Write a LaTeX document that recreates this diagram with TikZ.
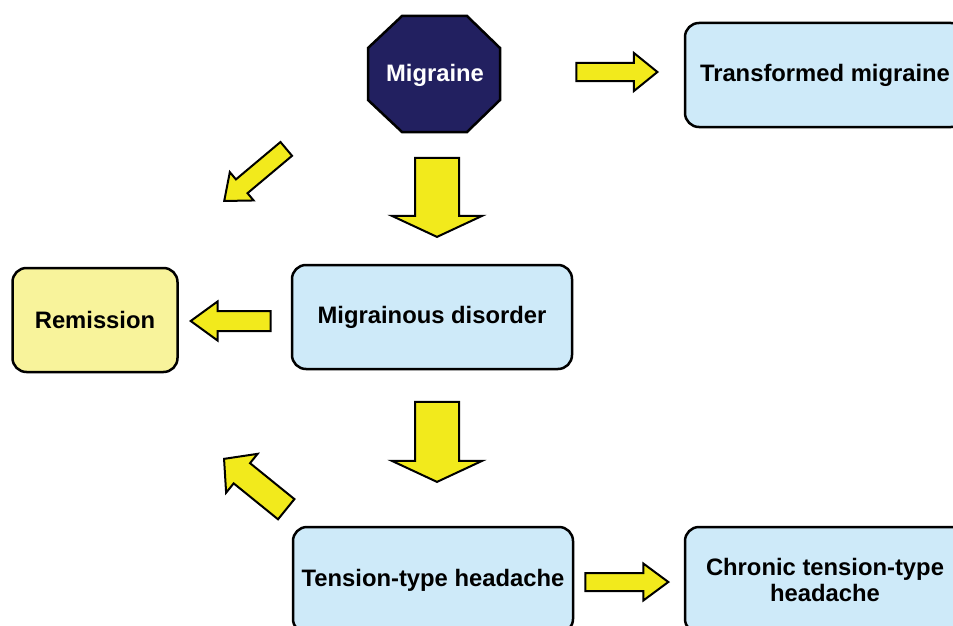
\documentclass[tikz,border=0pt]{standalone}
\usepackage{fontspec}
\setmainfont{Liberation Sans}
\usepackage{tikz}
\usetikzlibrary{shapes.arrows}
\definecolor{my_navy}{RGB}{34,32,96}
\definecolor{my_blue}{RGB}{206,234,249}
\definecolor{my_pale}{RGB}{248,243,155}
\definecolor{my_yellow}{RGB}{242,234,28}
\tikzset{my_diagram/.style={x=1pt,y=-1pt}}
\tikzset{my_text/.style={font=\bfseries\fontsize{23.8}{26.5}\selectfont, align=center}}
\tikzset{my_box/.style={my_text, rectangle, rounded corners=14pt, draw=black, line width=2.5pt, fill=my_blue, minimum width=280pt, minimum height=104pt}}
\tikzset{my_octagon/.style={draw=black, line width=2.5pt, fill=my_navy}}
\tikzset{my_arrow/.style={single arrow, draw=black, line width=2pt, fill=my_yellow, inner sep=0pt, anchor=tip}}
\tikzset{my_slim_arrow/.style={my_arrow, inner ysep=8pt, single arrow head extend=9.5pt, single arrow tip angle=78}}
\tikzset{my_wide_arrow/.style={my_arrow, inner ysep=21pt, single arrow head extend=23pt, single arrow tip angle=130}}

\begin{document}
\begin{tikzpicture}[my_diagram]
    \clip (0,0) rectangle (953,626);
    %\draw[help lines, step=50] (0,0) grid (953,626);
    \filldraw[my_octagon] (402,16) -- (467,16) -- (500,48) -- (500,100) -- (467,132)
        -- (402,132) -- (368,100) -- (368,48) -- cycle;
    \node[my_text, text=white] (migraine) at (435,75) {Migraine};

    \node[my_box] (transformed) at (825,75) {Transformed migraine};
    \node[my_box] (disorder) at (432,317) {Migrainous disorder};
    \node[my_box, fill=my_pale, minimum width=165pt] (remission) at (95,320) {Remission};
    \node[my_box, minimum height=106pt] (tension) at (433,580) {Tension-type headache};
    \node[my_box, minimum height=106pt] (chronic) at (825,580) {Chronic tension-type\\headache};

    \node[my_slim_arrow, minimum height=81pt, single arrow head extend=10pt] (to_transformed) at (659,72) {};
    \node[my_wide_arrow, minimum height=79pt, rotate=-90] (to_disorder) at (437,238) {};
    \node[my_slim_arrow, minimum height=81pt, rotate=220] (to_remission_a) at (223,202) {};
    \node[my_slim_arrow, minimum height=80pt, inner ysep=9pt, single arrow tip angle=72, rotate=180] (to_remission_b) at (189,321) {};
    \node[my_wide_arrow, minimum height=80pt, rotate=-90] (to_tension) at (437,483) {};
    \node[my_slim_arrow, minimum height=80pt, inner ysep=12pt, single arrow head extend=12pt, single arrow tip angle=95, rotate=141] (to_remission_c) at (223,458) {};
    \node[my_slim_arrow, minimum height=83pt, single arrow tip angle=73] (to_chronic) at (670,582) {};
\end{tikzpicture}
\end{document}
